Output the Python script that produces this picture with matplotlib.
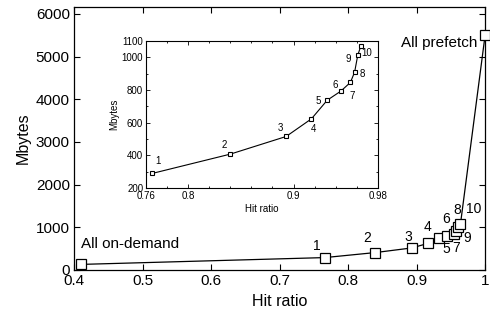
import matplotlib
matplotlib.use("Agg")
import matplotlib.pyplot as plt
from matplotlib.ticker import MultipleLocator, FixedLocator

plt.rcParams['font.family'] = ['Liberation Sans', 'DejaVu Sans']

# Data
ondemand_hit = 0.41
ondemand_mb = 130
prefetch_hit = 1.0
prefetch_mb = 5500
hit = [0.766, 0.840, 0.893, 0.917, 0.932, 0.945, 0.954, 0.958, 0.961, 0.964]
mb = [290, 408, 516, 624, 738, 794, 847, 910, 1014, 1071]
point_labels = ['1', '2', '3', '4', '5', '6', '7', '8', '9', '10']

main_xticks = [0.4, 0.5, 0.6, 0.7, 0.8, 0.9, 1.0]
main_xticklabels = ['0.4', '0.5', '0.6', '0.7', '0.8', '0.9', '1']
main_yticks = [0, 1000, 2000, 3000, 4000, 5000, 6000]
inset_xticks = [0.76, 0.8, 0.9, 0.98]
inset_xticklabels = ['0.76', '0.8', '0.9', '0.98']
inset_yticks = [200, 400, 600, 800, 1000, 1100]

fig = plt.figure(figsize=(4.9, 3.21), dpi=100)
ax = fig.add_axes([0.151, 0.159, 0.839, 0.819])

all_x = [ondemand_hit] + hit + [prefetch_hit]
all_y = [ondemand_mb] + mb + [prefetch_mb]
ax.plot(all_x, all_y, color='black', lw=0.9, marker='s', ms=7.5,
        mfc='white', mec='black', mew=0.9, clip_on=False, zorder=3)
ax.set_xlim(0.4, 1.0)
ax.set_ylim(0, 6160)
ax.set_xticks(main_xticks)
ax.set_xticklabels(main_xticklabels)
ax.set_yticks(main_yticks)
ax.tick_params(direction='in', length=4, width=0.8, top=True, right=True,
               labelsize=11, pad=3)
ax.set_xlabel('Hit ratio', fontsize=11.5, labelpad=4)
ax.set_ylabel('Mbytes', fontsize=11.5, labelpad=4)
for s in ax.spines.values():
    s.set_linewidth(0.9)

# main point labels (pixel offsets)
main_offsets = [(-8, 12), (-8, 15), (-4, 11), (-1, 16), (8, -11),
                (-1, 17), (3, -14), (1, 21), (9, -11), (13, 15)]
for lab, x, y, off in zip(point_labels, hit, mb, main_offsets):
    ax.annotate(lab, (x, y), xytext=off, textcoords='offset pixels',
                ha='center', va='center', fontsize=10)
ax.annotate('All on-demand', (ondemand_hit, ondemand_mb), xytext=(0, 20),
            textcoords='offset pixels', ha='left', va='center', fontsize=11)
ax.annotate('All prefetch', (prefetch_hit, prefetch_mb), xytext=(-8, -8),
            textcoords='offset pixels', ha='right', va='center', fontsize=11)

# inset
ins = fig.add_axes([0.298, 0.414, 0.473, 0.458])
ins.plot(hit, mb, color='black', lw=0.8, marker='s', ms=3.5,
         mfc='white', mec='black', mew=0.8, clip_on=False, zorder=3)
ins.set_xlim(0.76, 0.98)
ins.set_ylim(200, 1100)
ins.xaxis.set_major_locator(FixedLocator(inset_xticks))
ins.set_xticklabels(inset_xticklabels)
ins.yaxis.set_major_locator(FixedLocator(inset_yticks))
ins.xaxis.set_minor_locator(MultipleLocator(0.02))
ins.yaxis.set_minor_locator(MultipleLocator(100))
ins.tick_params(which='both', direction='in', top=True, right=True, width=0.6)
ins.tick_params(which='major', length=3, labelsize=7, pad=2)
ins.tick_params(which='minor', length=1.5)
ins.set_xlabel('Hit ratio', fontsize=7, labelpad=2)
ins.set_ylabel('Mbytes', fontsize=7, labelpad=2)
for s in ins.spines.values():
    s.set_linewidth(0.8)

inset_offsets = [(6, 12), (-6, 9), (-6, 8), (2, -10), (-9, -1),
                 (-6, 6), (2, -14), (8, -2), (-10, -4), (6, -7)]
for lab, x, y, off in zip(point_labels, hit, mb, inset_offsets):
    ins.annotate(lab, (x, y), xytext=off, textcoords='offset pixels',
                 ha='center', va='center', fontsize=7)

fig.savefig('out.png', dpi=100)
